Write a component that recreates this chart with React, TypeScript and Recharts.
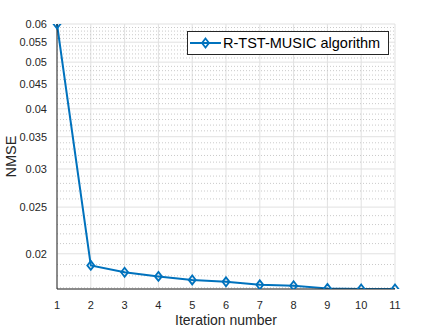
import React from 'react'
import { LineChart, Line, XAxis, YAxis, CartesianGrid, ReferenceLine } from 'recharts'

const iterations = [1, 2, 3, 4, 5, 6, 7, 8, 9, 10, 11]
const nmse = [0.06, 0.01892, 0.01831, 0.01795, 0.01765, 0.01749, 0.01724, 0.01716, 0.01695, 0.0169, 0.0169]
const yMajor = [0.02, 0.025, 0.03, 0.035, 0.04, 0.045, 0.05, 0.055, 0.06]
const yMinor = [
  0.017, 0.018, 0.019, 0.021, 0.022, 0.023, 0.024, 0.026, 0.027, 0.028, 0.029,
  0.031, 0.032, 0.033, 0.034, 0.036, 0.037, 0.038, 0.039, 0.041, 0.042, 0.043, 0.044,
  0.046, 0.047, 0.048, 0.049, 0.051, 0.052, 0.053, 0.054, 0.056, 0.057, 0.058, 0.059,
]
const seriesName = 'R-TST-MUSIC algorithm'

const data = iterations.map((it, i) => ({ it, nmse: nmse[i] }))

const FONT = '"Liberation Sans", Arial, Helvetica, sans-serif'
const AXIS = '#262626'
const BLUE = '#0072BD'

// inward tick marks, drawn at the positions the axis scale hands us
const tickMark = (side: 'left' | 'right' | 'top') => (p: any) => {
  const major = side === 'top' || yMajor.includes(p.payload.value)
  const len = major ? 4 : 2
  const { x, y } = p
  if (side === 'left') return <line x1={x} y1={y} x2={x + len} y2={y} stroke={AXIS} />
  if (side === 'right') return <line x1={x} y1={y} x2={x - len} y2={y} stroke={AXIS} />
  return <line x1={x} y1={y} x2={x} y2={y + len} stroke={AXIS} />
}

const Diamond = (p: any) => {
  const { cx, cy } = p
  if (cx == null || cy == null) return <g />
  return (
    <path
      d={`M${cx},${cy - 4.5} L${cx + 3.5},${cy} L${cx},${cy + 4.5} L${cx - 3.5},${cy} Z`}
      fill="none"
      stroke={BLUE}
      strokeWidth={1.8}
    />
  )
}

const LegendBox = () => (
  <div
    style={{
      position: 'absolute',
      left: 187,
      top: 31,
      border: '1px solid #262626',
      background: '#fff',
      width: 202,
      height: 24,
      display: 'flex',
      alignItems: 'center',
      fontFamily: FONT,
      fontSize: 14.5,
      color: '#000',
      boxSizing: 'border-box',
      whiteSpace: 'nowrap',
    }}
  >
    <svg width={35} height={20} style={{ flex: 'none' }}>
      <line x1={2} y1={10} x2={33} y2={10} stroke={BLUE} strokeWidth={2} />
      <path d="M17.5,5.5 L21,10 L17.5,14.5 L14,10 Z" fill="none" stroke={BLUE} strokeWidth={1.8} />
    </svg>
    <span>{seriesName}</span>
  </div>
)

export default function App() {
  return (
    <div style={{ position: 'absolute', left: 0, top: 0, width: 436, height: 327, background: '#fff' }}>
      <LineChart width={436} height={327} data={data} margin={{ top: 24, right: 41, bottom: 0, left: 0 }}>
        <CartesianGrid stroke="#e1e1e1" strokeWidth={1} />
        {yMinor.map((v) => (
          <ReferenceLine key={v} y={v} stroke="#bdbdbd" strokeDasharray="1 2" strokeWidth={0.8} />
        ))}
        <XAxis
          dataKey="it"
          type="number"
          domain={[1, 11]}
          ticks={iterations}
          interval={0}
          tickLine={false}
          stroke={AXIS}
          tick={{ fill: AXIS, fontSize: 11, fontFamily: FONT }}
          tickMargin={6}
          label={{ value: 'Iteration number', position: 'insideBottom', offset: 2, fill: AXIS, fontSize: 14, fontFamily: FONT }}
          height={38}
        />
        <XAxis xAxisId="top" dataKey="it" type="number" domain={[1, 11]} ticks={iterations} interval={0} orientation="top" mirror height={0} stroke={AXIS} tickLine={false} tickSize={0} tickMargin={0} tick={tickMark('top')} />
        <YAxis
          scale="log"
          type="number"
          domain={[0.0169, 0.06]}
          allowDataOverflow
          ticks={yMajor}
          interval={0}
          tickFormatter={(v: number) => String(v)}
          tickLine={false}
          stroke={AXIS}
          tick={{ fill: AXIS, fontSize: 11, fontFamily: FONT }}
          tickMargin={4}
          width={57}
          label={{ value: 'NMSE', angle: -90, position: 'insideLeft', offset: 11, fill: AXIS, fontSize: 14.5, fontFamily: FONT, style: { textAnchor: 'middle' } }}
        />
        <YAxis yAxisId="l2" scale="log" type="number" domain={[0.0169, 0.06]} allowDataOverflow ticks={[...yMajor, ...yMinor]} interval={0} mirror width={0} axisLine={false} tickLine={false} tickSize={0} tickMargin={0} tick={tickMark('left')} />
        <YAxis yAxisId="r" scale="log" type="number" domain={[0.0169, 0.06]} allowDataOverflow ticks={[...yMajor, ...yMinor]} interval={0} orientation="right" mirror width={0} stroke={AXIS} tickLine={false} tickSize={0} tickMargin={0} tick={tickMark('right')} />
        <Line
          type="linear"
          dataKey="nmse"
          name={seriesName}
          stroke={BLUE}
          strokeWidth={2}
          dot={<Diamond />}
          activeDot={false}
          isAnimationActive={false}
        />
      </LineChart>
      <LegendBox />
    </div>
  )
}
